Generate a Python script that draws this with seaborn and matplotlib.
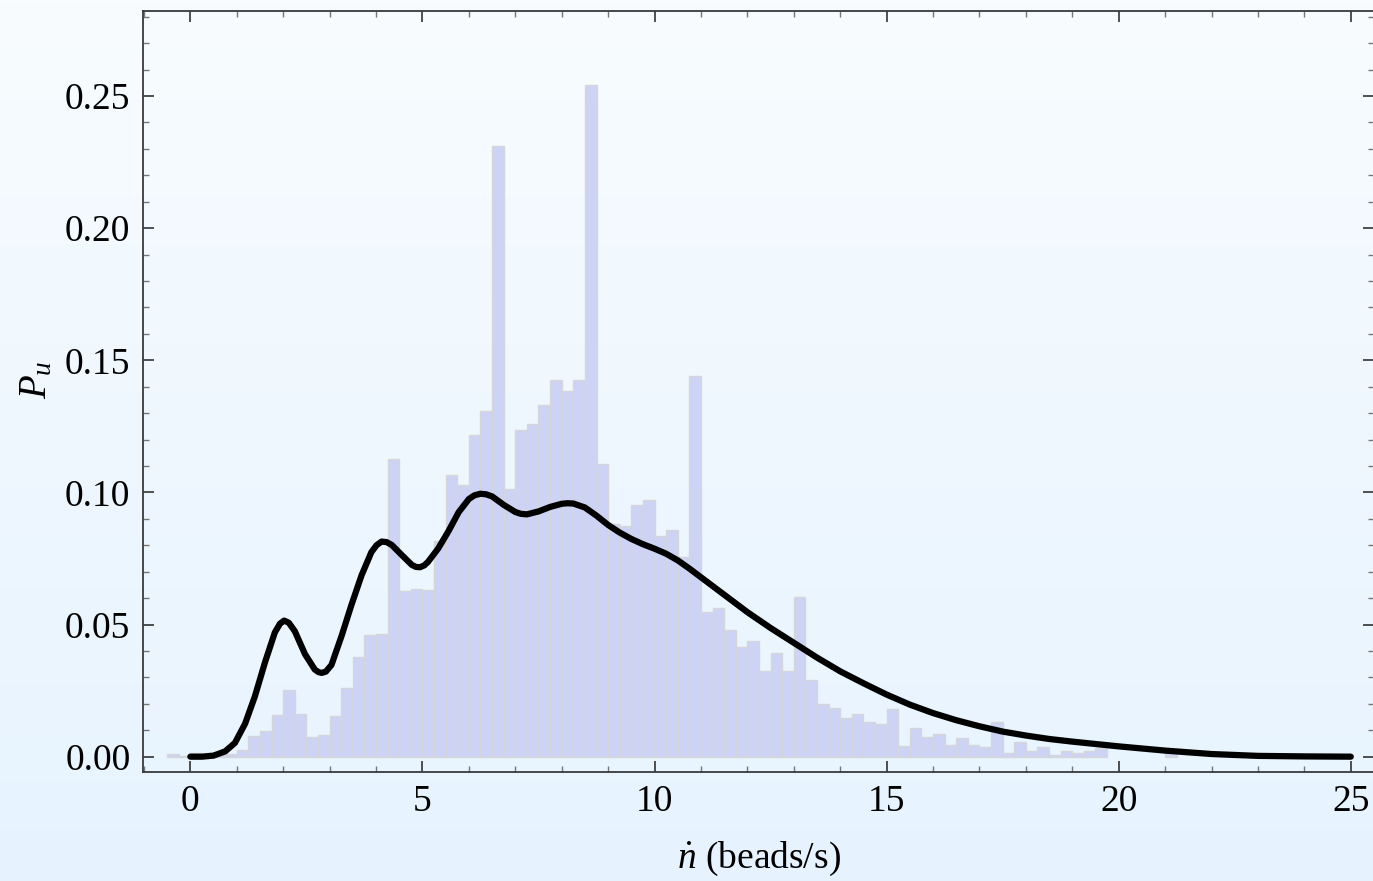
import numpy as np
import pandas as pd
import matplotlib
matplotlib.use("Agg")
import matplotlib.pyplot as plt
from matplotlib.ticker import MultipleLocator, FormatStrFormatter
import seaborn as sns

# Histogram: left edges of 0.25-wide bins and their probabilities
bin_left = np.arange(-0.5, 21.25, 0.25)
bin_height = [
    0.0010, 0.0004, 0.0015, 0.0008, 0.0008, 0.0009, 0.0026, 0.0077,   # -0.5 .. 1.25
    0.0096, 0.0157, 0.0251, 0.0162, 0.0076, 0.0083, 0.0153, 0.0258,   # 1.5 .. 3.25
    0.0376, 0.0460, 0.0466, 0.1128, 0.0626, 0.0635, 0.0631, 0.0816,   # 3.5 .. 5.25
    0.1067, 0.1027, 0.1219, 0.1309, 0.2312, 0.1014, 0.1237, 0.1258,   # 5.5 .. 7.25
    0.1332, 0.1425, 0.1384, 0.1424, 0.2540, 0.1109, 0.0880, 0.0872,   # 7.5 .. 9.25
    0.0952, 0.0972, 0.0836, 0.0857, 0.0754, 0.1442, 0.0547, 0.0562,   # 9.5 .. 11.25
    0.0480, 0.0415, 0.0436, 0.0326, 0.0391, 0.0326, 0.0606, 0.0290,   # 11.5 .. 13.25
    0.0198, 0.0184, 0.0145, 0.0160, 0.0130, 0.0124, 0.0181, 0.0039,   # 13.5 .. 15.25
    0.0110, 0.0076, 0.0086, 0.0044, 0.0071, 0.0044, 0.0035, 0.0130,   # 15.5 .. 17.25
    0.0014, 0.0054, 0.0020, 0.0035, 0.0005, 0.0020, 0.0014, 0.0020,   # 17.5 .. 19.25
    0.0031, 0.0, 0.0, 0.0, 0.0, 0.0, 0.0015,                          # 19.5 .. 21.0
]

# Model distribution curve
curve_x = [0.0, 0.25, 0.5, 0.75, 0.96, 1.18, 1.39, 1.61, 1.82, 1.93, 2.02,
           2.12, 2.25, 2.47, 2.68, 2.76, 2.83, 2.92, 3.04, 3.26, 3.47, 3.69,
           3.9, 4.01, 4.12, 4.23, 4.34, 4.55, 4.77, 4.86, 4.95, 5.04, 5.12,
           5.34, 5.56, 5.78, 6.0, 6.12, 6.25, 6.37, 6.5, 6.75, 7.0, 7.12,
           7.25, 7.5, 7.75, 8.0, 8.12, 8.25, 8.5, 8.75, 9.0, 9.25, 9.5, 9.75,
           10.0, 10.25, 10.5, 10.75, 11.0, 11.25, 11.5, 12.0, 12.5, 13.0,
           13.5, 14.0, 14.5, 15.0, 15.5, 16.0, 16.5, 17.0, 17.5, 18.0, 18.5,
           19.0, 19.5, 20.0, 21.0, 22.0, 23.0, 24.0, 25.0]
curve_y = [0.0, 0.0, 0.0004, 0.0020, 0.0052, 0.0125, 0.0228, 0.0358, 0.0470,
           0.0503, 0.0515, 0.0507, 0.0475, 0.0388, 0.0330, 0.0320, 0.0317,
           0.0322, 0.0347, 0.0458, 0.0574, 0.0687, 0.0774, 0.0800, 0.0814,
           0.0812, 0.0801, 0.0764, 0.0726, 0.0718, 0.0717, 0.0724, 0.0737,
           0.0788, 0.0853, 0.0925, 0.0975, 0.0989, 0.0995, 0.0993, 0.0985,
           0.0953, 0.0926, 0.0919, 0.0917, 0.0928, 0.0945, 0.0957, 0.0959,
           0.0958, 0.0943, 0.0912, 0.0877, 0.0848, 0.0824, 0.0804, 0.0787,
           0.0768, 0.0743, 0.0712, 0.0679, 0.0646, 0.0613, 0.0547, 0.0487,
           0.0431, 0.0375, 0.0323, 0.0278, 0.0235, 0.0197, 0.0165, 0.0138,
           0.0115, 0.0095, 0.0080, 0.0067, 0.0057, 0.0048, 0.0039, 0.0023,
           0.0010, 0.0003, 0.0001, 0.0]

x_ticks = [0, 5, 10, 15, 20, 25]
y_ticks = [0.00, 0.05, 0.10, 0.15, 0.20, 0.25]

sns.set_theme(style="ticks")
plt.rcParams["font.family"] = ["Liberation Serif", "DejaVu Serif"]
plt.rcParams["mathtext.fontset"] = "custom"
plt.rcParams["mathtext.rm"] = "Liberation Serif"
plt.rcParams["mathtext.it"] = "Liberation Serif:italic"

W, H = 1373, 881
fig = plt.figure(figsize=(W / 100, H / 100), dpi=100)

# soft vertical background gradient behind everything
bg = fig.add_axes([0, 0, 1, 1], zorder=0)
top_c = np.array([248, 252, 255]) / 255
bot_c = np.array([230, 243, 254]) / 255
t = np.linspace(0, 1, 256)[:, None, None]
grad = (1 - t) * top_c + t * bot_c
bg.imshow(np.repeat(grad, 2, axis=1), aspect="auto", extent=[0, 1, 0, 1])
bg.axis("off")

ax = fig.add_axes([143 / W, 1 - 772 / H, (1374 - 143) / W, (772 - 10.7) / H], zorder=1)
ax.patch.set_alpha(0)

hist_df = pd.DataFrame({"rate": bin_left + 0.125, "prob": bin_height})
bar_style = dict(facecolor="#CDD3F5", edgecolor="#D6D6DA", linewidth=1.0, alpha=1.0)
main_part = hist_df[hist_df["rate"] < 19.8]
tail_part = hist_df[hist_df["rate"] > 20.9]
sns.histplot(data=main_part, x="rate", weights="prob", binwidth=0.25,
             binrange=(-0.5, 19.75), ax=ax, **bar_style)
sns.histplot(data=tail_part, x="rate", weights="prob", binwidth=0.25,
             binrange=(21.0, 21.25), ax=ax, **bar_style)

curve_df = pd.DataFrame({"rate": curve_x, "prob": curve_y})
sns.lineplot(data=curve_df, x="rate", y="prob", ax=ax, color="black",
             linewidth=4.5)
for ln in ax.lines:
    ln.set_solid_joinstyle("round")

ax.set_xlim(-1.02, 25.5)
ax.set_ylim(-0.0058, 0.2823)

ax.set_xticks(x_ticks)
ax.set_yticks(y_ticks)
ax.xaxis.set_minor_locator(MultipleLocator(1))
ax.yaxis.set_minor_locator(MultipleLocator(0.01))
ax.yaxis.set_major_formatter(FormatStrFormatter("%.2f"))

for side in ["left", "right", "top", "bottom"]:
    ax.spines[side].set_visible(True)
    ax.spines[side].set_color("#3a3a3a")
    ax.spines[side].set_linewidth(1.3)

ax.tick_params(which="both", direction="in", top=True, right=True,
               labelsize=27, colors="black")
ax.tick_params(which="major", length=8, width=1.1, pad=9, color="#222222")
ax.tick_params(which="minor", length=4.5, width=1.0, color="#777777")

ax.set_xlabel(r"$\dot{n}$ (beads/s)", fontsize=27, color="black")
ax.set_ylabel(r"$P_u$", fontsize=28, color="black")
ax.xaxis.set_label_coords(0.5, -0.089)
ax.yaxis.set_label_coords(-0.071, 0.515)

fig.savefig("out.png", dpi=100)
